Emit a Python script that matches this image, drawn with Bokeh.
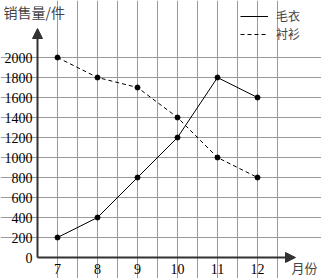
from bokeh.plotting import figure
from bokeh.models import Range1d, Grid, FixedTicker, Arrow, NormalHead, Legend, LegendItem
from bokeh.core.properties import value
from bokeh.embed import file_html
from bokeh.resources import INLINE

months = [7, 8, 9, 10, 11, 12]
month_labels = ["7", "8", "9", "10", "11", "12"]
sweater = [200, 400, 800, 1200, 1800, 1600]   # 毛衣
shirt = [2000, 1800, 1700, 1400, 1000, 800]   # 衬衫
y_ticks = [0, 200, 400, 600, 800, 1000, 1200, 1400, 1600, 1800, 2000]
y_labels = [str(v) for v in y_ticks]
x_grid = [7, 7.5, 8, 8.5, 9, 9.5, 10, 10.5, 11, 11.5, 12, 12.5]
y_grid = [200, 400, 600, 800, 1000, 1200, 1400, 1600, 1800, 2000]

p = figure(width=321, height=278, output_backend="svg", toolbar_location=None,
           x_range=Range1d(5.575, 13.6), y_range=Range1d(-210, 2570),
           x_axis_location=None, y_axis_location=None, min_border=0,
           outline_line_color=None)
p.grid.visible = False

gx = Grid(dimension=0, ticker=FixedTicker(ticks=x_grid), bounds=(0, 2000),
          grid_line_color="#9a9a9a", grid_line_width=1)
gy = Grid(dimension=1, ticker=FixedTicker(ticks=y_grid), bounds=(6.5, 12.5),
          grid_line_color="#9a9a9a", grid_line_width=1)
p.add_layout(gx)
p.add_layout(gy)

axis_col = "#333333"
p.add_layout(Arrow(end=NormalHead(size=10, fill_color=axis_col, line_color=axis_col),
                   x_start=6.5, y_start=0, x_end=6.5, y_end=2290,
                   line_color=axis_col, line_width=2))
p.add_layout(Arrow(end=NormalHead(size=10, fill_color=axis_col, line_color=axis_col),
                   x_start=6.5, y_start=0, x_end=12.95, y_end=0,
                   line_color=axis_col, line_width=2))

r1 = p.line(months, sweater, line_color="black", line_width=1)
p.scatter(months, sweater, size=5, color="black")
r2 = p.line(months, shirt, line_color="black", line_width=1, line_dash="4 3")
p.scatter(months, shirt, size=5, color="black")

serif = value("Liberation Serif")
p.text(x=[6.375] * len(y_ticks), y=y_ticks, text=y_labels, text_font=serif,
       text_font_size="14px", text_align="right", text_baseline="middle", text_color="black")
p.text(x=months, y=[-110] * len(months), text=month_labels, text_font=serif,
       text_font_size="14px", text_align="center", text_baseline="middle", text_color="black")

cjk = value("Noto Sans CJK SC")
p.text(x=[5.65], y=[2460], text=["销售量/件"], text_font=cjk, text_font_size="14px",
       text_align="left", text_baseline="middle", text_color="#444444")
p.text(x=[12.85], y=[-95], text=["月份"], text_font=cjk, text_font_size="13px",
       text_align="left", text_baseline="middle", text_color="#444444")

def make_legend(label, renderer, loc):
    return Legend(items=[LegendItem(label=label, renderers=[renderer])],
                  location=loc, orientation="vertical",
                  border_line_color=None, background_fill_alpha=0,
                  glyph_width=28, glyph_height=12, label_height=12,
                  label_standoff=8, spacing=0, padding=0, margin=0,
                  label_text_font="Noto Sans CJK SC", label_text_font_size="12px",
                  label_text_color="#444444")

p.add_layout(make_legend("毛衣", r1, (240, 254)))
p.add_layout(make_legend("衬衫", r2, (240, 236)))

open("out.html", "w").write(file_html(p, INLINE))
